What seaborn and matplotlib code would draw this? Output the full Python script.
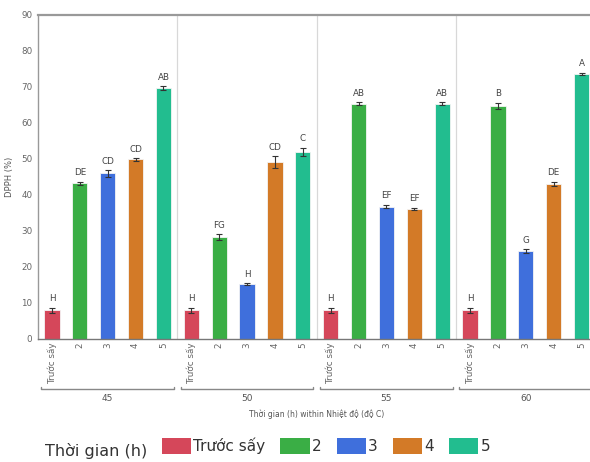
import numpy as np
import pandas as pd
import matplotlib
matplotlib.use("Agg")
import matplotlib.pyplot as plt
import matplotlib.transforms as mtransforms
from matplotlib.patches import Patch
import seaborn as sns

# data
temps = ["45", "50", "55", "60"]
times = ["Trước sấy", "2", "3", "4", "5"]
dpph = [
    [7.9, 43.2, 45.9, 49.8, 69.7],
    [7.9, 28.3, 15.1, 49.1, 51.9],
    [7.9, 65.3, 36.7, 36.1, 65.3],
    [7.9, 64.7, 24.3, 43.0, 73.6],
]
errs = [
    [0.7, 0.4, 1.0, 0.4, 0.5],
    [0.7, 0.8, 0.3, 1.6, 1.2],
    [0.7, 0.4, 0.5, 0.3, 0.4],
    [0.7, 0.9, 0.5, 0.6, 0.3],
]
letters = [
    ["H", "DE", "CD", "CD", "AB"],
    ["H", "FG", "H", "CD", "C"],
    ["H", "AB", "EF", "EF", "AB"],
    ["H", "B", "G", "DE", "A"],
]
colors = ["#d5475a", "#3aae45", "#3f6fdc", "#d37a27", "#22bd8f"]

rows = []
for gi, t in enumerate(temps):
    for ti, h in enumerate(times):
        rows.append({"slot": f"{t}_{ti}", "time": h, "temp": t,
                     "value": dpph[gi][ti], "err": errs[gi][ti],
                     "letter": letters[gi][ti]})
df = pd.DataFrame(rows)

sns.set_style("white")
plt.rcParams["font.family"] = ["DejaVu Sans"]

fig = plt.figure(figsize=(5.9, 4.62), dpi=100)
ax = fig.add_axes([38 / 590, 123.3 / 462, 557.5 / 590, 324 / 462])

sns.barplot(data=df, x="slot", y="value", hue="time", palette=colors,
            saturation=1, dodge=False, width=0.55, ax=ax, legend=False,
            edgecolor="#f4f4f4", linewidth=0.6)

xs = np.arange(len(df))
ax.errorbar(xs, df["value"], yerr=df["err"], fmt="none", ecolor="#333333",
            elinewidth=0.8, capsize=2.2, capthick=0.8)
for x, v, e, lab in zip(xs, df["value"], df["err"], df["letter"]):
    ax.text(x, v + e + 1.2, lab, ha="center", va="bottom", fontsize=6.3,
            color="#444444")

ax.set_xlim(-0.5, len(df) - 0.5)
ax.set_ylim(0, 90)
ax.set_yticks(range(0, 91, 10))
ax.tick_params(axis="y", labelsize=6.3, labelcolor="#666666", length=3,
               color="#888888", width=0.8, pad=1)
ax.set_xticks(xs)
ax.set_xticklabels(df["time"], rotation=90, fontsize=6.3, color="#666666")
ax.tick_params(axis="x", length=0, pad=3)
ax.set_xlabel("")
ax.set_ylabel("DPPH (%)", fontsize=6, color="#555555", labelpad=5)

for side in ["top", "left", "bottom"]:
    ax.spines[side].set_color("#999999")
    ax.spines[side].set_linewidth(1.0)
ax.spines["top"].set_linewidth(1.6)
ax.spines["bottom"].set_color("#777777")
ax.spines["right"].set_visible(False)

for b in [4.5, 9.5, 14.5]:
    ax.axvline(b, color="#d8d8d8", lw=0.9, zorder=0)

# group brackets below the tick labels
trans = mtransforms.blended_transform_factory(ax.transData, ax.transAxes)
for gi, t in enumerate(temps):
    x0, x1 = gi * 5 - 0.38, gi * 5 + 4.38
    ax.plot([x0, x0, x1, x1], [-0.148, -0.155, -0.155, -0.148], color="#888888",
            lw=1.0, transform=trans, clip_on=False)
    ax.text(gi * 5 + 2, -0.172, t, ha="center", va="top", fontsize=6.5,
            color="#555555", transform=trans)
ax.text(0.5, -0.22, "Thời gian (h) within Nhiệt độ (độ C)", ha="center",
        va="top", fontsize=5.5, color="#555555", transform=ax.transAxes)

# legend
fig.text(45 / 590, (462 - 451) / 462, "Thời gian (h)", fontsize=11.5,
         color="#333333", va="center", ha="left")
handles = [Patch(facecolor=c, edgecolor="none") for c in colors]
fig.legend(handles, times, loc="center", ncol=5, frameon=False,
           bbox_to_anchor=(326 / 590, (462 - 446) / 462), fontsize=11,
           handlelength=1.9, handleheight=1.2, handletextpad=0.15,
           columnspacing=1.0, labelcolor="#333333")

fig.savefig("out.png", dpi=100)
